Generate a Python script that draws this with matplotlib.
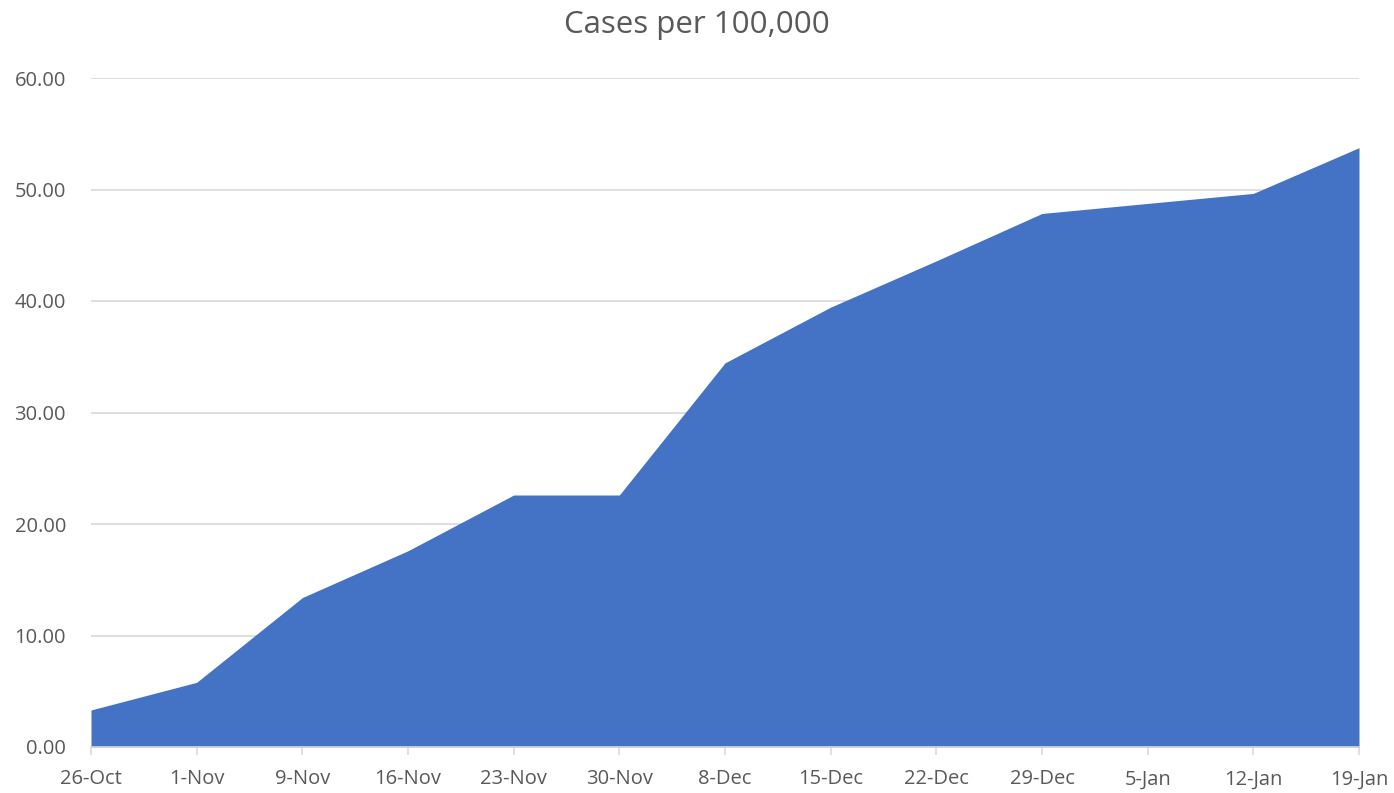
import numpy as np
import matplotlib.pyplot as plt

# data
dates = ['26-Oct', '1-Nov', '9-Nov', '16-Nov', '23-Nov', '30-Nov', '8-Dec',
         '15-Dec', '22-Dec', '29-Dec', '5-Jan', '12-Jan', '19-Jan']
cases = [3.32, 5.80, 13.40, 17.60, 22.60, 22.60, 34.45,
         39.45, 43.60, 47.85, 48.75, 49.65, 53.75]
yticks = [0, 10, 20, 30, 40, 50, 60]

plt.rcParams['font.family'] = ['Open Sans', 'DejaVu Sans']

fig = plt.figure(figsize=(13.94, 7.93), dpi=100)
ax = fig.add_axes([91 / 1394, 1 - 747 / 793, (1359 - 91) / 1394, (747 - 78) / 793])

x = np.arange(len(dates))
ax.fill_between(x, cases, 0, color='#4472C4', linewidth=0, zorder=2)

ax.set_xlim(0, len(dates) - 1)
ax.set_ylim(0, 60)
ax.set_yticks(yticks)
ax.set_yticklabels([f'{v:.2f}' for v in yticks], fontsize=14.5, color='#595959')
ax.set_xticks(x)
ax.set_xticklabels(dates, fontsize=14.5, color='#595959')

ax.grid(axis='y', color='#D9D9D9', linewidth=1.2, zorder=0)
ax.tick_params(axis='y', length=0, pad=18)
ax.tick_params(axis='x', length=6, color='#D9D9D9', width=1.2, pad=10)
for s in ['top', 'right', 'left']:
    ax.spines[s].set_visible(False)
ax.spines['bottom'].set_color('#D9D9D9')
ax.spines['bottom'].set_linewidth(1.2)
ax.spines['bottom'].set_zorder(3)

fig.suptitle('Cases per 100,000', y=0.987, fontsize=22.5, color='#595959')

plt.savefig('out.png', dpi=100)
